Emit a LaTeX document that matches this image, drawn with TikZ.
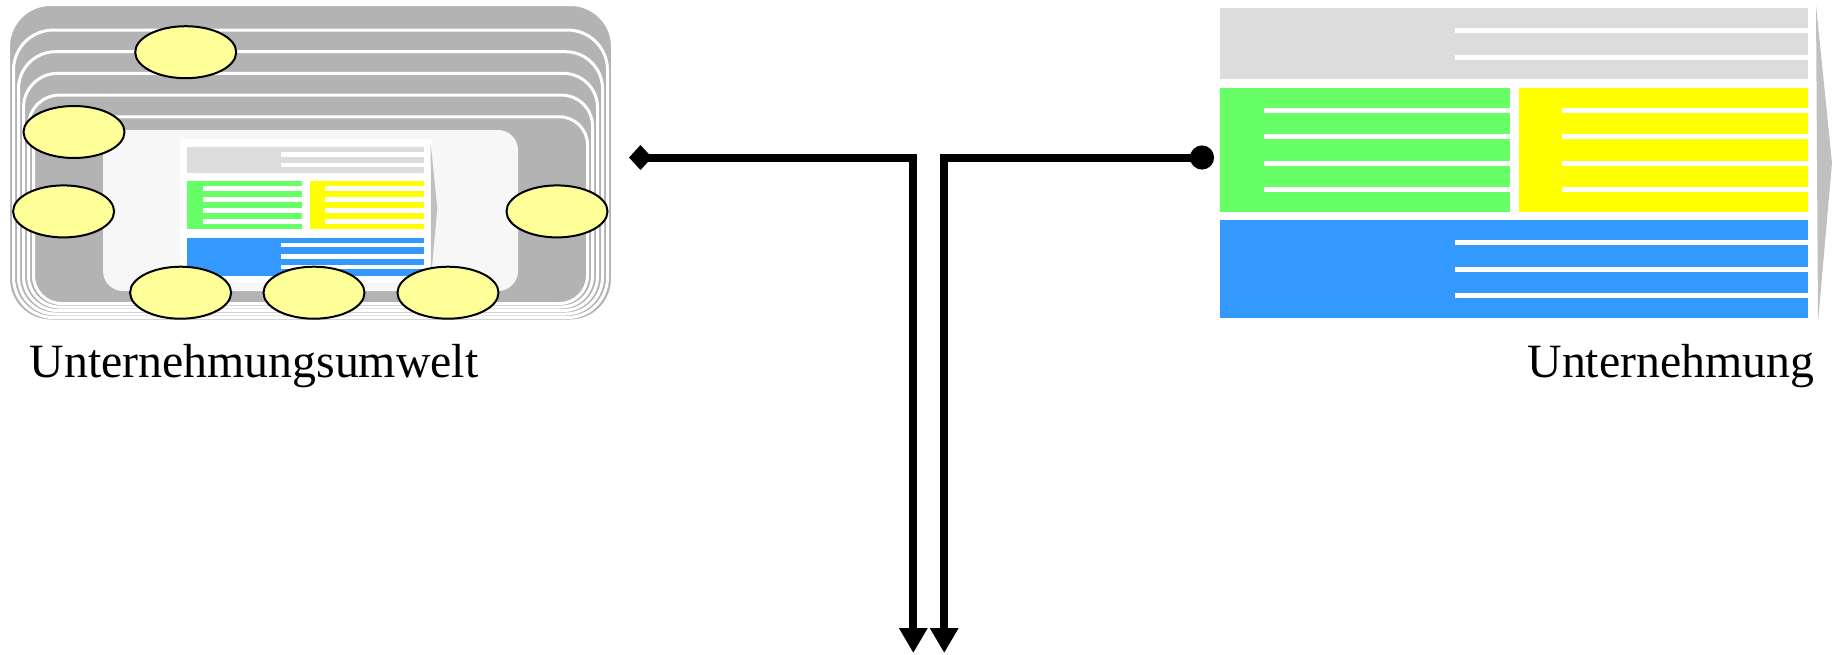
\documentclass[tikz,border=0pt]{standalone}
\usepackage{fontspec}
\setmainfont{Liberation Serif}
\usetikzlibrary{arrows.meta,shapes.geometric}
\definecolor{stackgray}{HTML}{B3B3B3}
\definecolor{panelgray}{HTML}{F7F7F7}
\definecolor{ellfill}{HTML}{FFFF99}
\definecolor{hdrgray}{HTML}{DCDCDC}
\definecolor{grn}{HTML}{66FF66}
\definecolor{yel}{HTML}{FFFF00}
\definecolor{blu}{HTML}{3399FF}
\definecolor{sliver}{HTML}{C0C0C0}
\begin{document}
\begin{tikzpicture}[x=1pt,y=-1pt,
  layerbox/.style={fill=stackgray, draw=white, line width=3pt},
  ell/.style={ellipse, draw=black, line width=2pt, fill=ellfill,
    minimum width=101pt, minimum height=52pt, inner sep=0pt},
  conn/.style={line width=8pt, line join=miter},
  sstripe/.style={draw=white, line width=4.5pt},
  bstripe/.style={draw=white, line width=4.8pt},
  txt/.style={font=\fontsize{47.8}{57}\selectfont, inner sep=0pt}]
\useasboundingbox (0,0) rectangle (1832,654);

% --- environment: stacked rounded layers
\foreach \l/\t/\r/\b/\rad in {8.5/4.5/612.5/321/42, 13.5/30/607.5/317.5/40,
   18.5/51.7/602.5/314/37, 23.5/73.4/597.5/310.5/34,
   28.5/95.1/592.5/307/31, 33.5/116.8/587.5/303.5/28}
  \draw[layerbox, rounded corners=\rad pt] (\l,\t) rectangle (\r,\b);
\fill[panelgray, rounded corners=20pt] (103,130) rectangle (518,291);

% --- small company icon
\fill[white] (180,139) rectangle (431.7,283);
\fill[sliver] (430.7,143.3) -- (437.3,208.3) -- (431,278) -- cycle;
\fill[hdrgray] (187.3,146.7) rectangle (424,172.7);
\foreach \y in {154.4,165.2} \draw[sstripe] (280.7,\y) -- (424,\y);
\fill[grn] (187.3,181) rectangle (301.7,229.3);
\fill[yel] (310,181) rectangle (424,229.3);
\foreach \y in {188.4,199.4,210.4,221.7} {
  \draw[sstripe] (203.3,\y) -- (301.7,\y);
  \draw[sstripe] (325.3,\y) -- (424,\y);
}
\fill[blu] (187.3,237.7) rectangle (424,275.7);
\foreach \y in {245,256.4,267} \draw[sstripe] (280.7,\y) -- (424,\y);

% --- ellipses
\node[ell] (e1) at (185.7,52.2) {};
\node[ell] (e2) at (74,132) {};
\node[ell] (e3) at (63.6,211.4) {};
\node[ell] (e4) at (557,211.4) {};
\node[ell] (e5) at (180.6,292.7) {};
\node[ell] (e6) at (314,292.7) {};
\node[ell] (e7) at (448,292.7) {};

% --- large company icon
\fill[hdrgray] (1220,8.3) rectangle (1808,79.3);
\foreach \y in {30.4,57.5} \draw[bstripe] (1455,\y) -- (1808,\y);
\fill[grn] (1220,87.7) rectangle (1510,211.7);
\fill[yel] (1518.5,87.7) rectangle (1808,211.7);
\foreach \y in {110.2,136.5,163.5,189.5} {
  \draw[bstripe] (1263.7,\y) -- (1510,\y);
  \draw[bstripe] (1562,\y) -- (1808,\y);
}
\fill[blu] (1220,220) rectangle (1808,317.7);
\foreach \y in {242.5,269.2,295.5} \draw[bstripe] (1455,\y) -- (1808,\y);
\fill[sliver] (1816,5) -- (1832,163) -- (1818,322) -- cycle;

% --- labels
\node[txt, anchor=base west] (envlabel) at (29.5,377) {Unternehmungsumwelt};
\node[txt, anchor=base east] (entlabel) at (1814.5,377) {Unternehmung};

% --- connectors
\coordinate (envport) at (629,157.5);
\coordinate (entport) at (1214,157.5);
\coordinate (out1) at (913.3,653);
\coordinate (out2) at (944.2,653);
\draw[conn, {Diamond[length=23pt,width=25pt]}-{Triangle[length=25pt,width=27pt]}]
  (envport) -| (out1);
\draw[conn, {Circle[length=24pt]}-{Triangle[length=25pt,width=27pt]}]
  (entport) -| (out2);
\end{tikzpicture}
\end{document}
